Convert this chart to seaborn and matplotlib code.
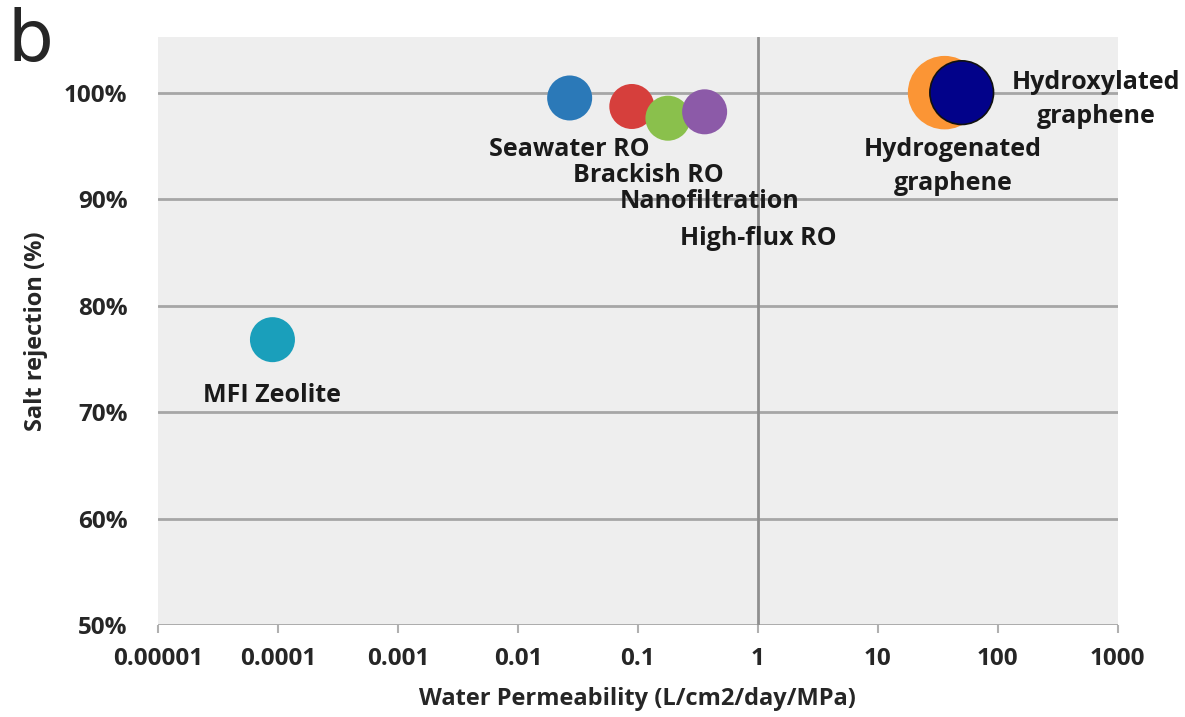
import numpy as np
import pandas as pd
import matplotlib
matplotlib.use("Agg")
import matplotlib.pyplot as plt
import matplotlib.ticker as mticker
import seaborn as sns

materials = ["MFI Zeolite", "Seawater RO", "Brackish RO", "Nanofiltration", "High-flux RO",
             "Hydrogenated graphene", "Hydroxylated graphene"]
permeability = [0.00009, 0.027, 0.089, 0.178, 0.36, 36, 50]
rejection = [0.768, 0.995, 0.987, 0.976, 0.982, 1.0, 1.0]
colors = ["#1a9fbb", "#2b79b8", "#d63f3c", "#8ac04c", "#8c5aa8", "#fb9535", "#02028a"]
marker_size = [1050, 1050, 1050, 1050, 1050, 2800, 2100]
x_ticks = [0.00001, 0.0001, 0.001, 0.01, 0.1, 1, 10, 100, 1000]
x_labels = ["0.00001", "0.0001", "0.001", "0.01", "0.1", "1", "10", "100", "1000"]
y_ticks = [0.5, 0.6, 0.7, 0.8, 0.9, 1.0]

df = pd.DataFrame({"material": materials, "perm": permeability, "rej": rejection, "sz": marker_size})

sns.set_style("white")
plt.rcParams["font.family"] = ["Open Sans", "DejaVu Sans"]

fig = plt.figure(figsize=(11.85, 7.17), dpi=100)
ax = fig.add_axes([0.1333, 0.1283, 0.81, 0.8197])
ax.set_facecolor("#eeeeee")

sns.scatterplot(data=df, x="perm", y="rej", hue="material", palette=colors,
                size="sz", sizes=dict(zip(marker_size, marker_size)),
                edgecolor=["none"] * 6 + ["#111111"], linewidth=1.2,
                legend=False, ax=ax, zorder=3)

ax.set_xscale("log")
ax.set_xlim(0.00001, 1000)
ax.set_ylim(0.5, 1.052)
ax.set_xticks(x_ticks)
ax.set_xticklabels(x_labels)
ax.xaxis.set_minor_locator(mticker.NullLocator())
ax.set_yticks(y_ticks)
ax.yaxis.set_major_formatter(mticker.FuncFormatter(lambda v, p: f"{v*100:.0f}%"))

for y in y_ticks:
    ax.axhline(y, color="#a6a6a6", lw=2, zorder=1)
ax.axvline(1, color="#8f8f8f", lw=2, zorder=1)

for s in ["top", "right", "left", "bottom"]:
    ax.spines[s].set_visible(False)
ax.tick_params(axis="x", bottom=True, length=6, width=1.5, color="#b0b0b0", pad=10, labelsize=17.5)
ax.tick_params(axis="y", length=0, pad=22, labelsize=17.5)
for t in ax.get_xticklabels() + ax.get_yticklabels():
    t.set_fontweight("bold")

ax.set_xlabel("Water Permeability (L/cm2/day/MPa)", fontsize=17, fontweight="bold")
ax.set_ylabel("Salt rejection (%)", fontsize=17, fontweight="bold")
ax.xaxis.set_label_coords(0.5, -0.105)
ax.yaxis.set_label_coords(-0.1146, 0.5)

lab = dict(fontsize=18, fontweight="bold", textcoords="offset points", color="#1a1a1a", zorder=4,
           annotation_clip=False)
ax.annotate("MFI Zeolite", (permeability[0], rejection[0]), xytext=(0, -40), ha="center", va="center", **lab)
ax.annotate("Seawater RO", (permeability[1], rejection[1]), xytext=(0, -37), ha="center", va="center", **lab)
ax.annotate("Brackish RO", (permeability[2], rejection[2]), xytext=(-42, -50), ha="left", va="center", **lab)
ax.annotate("Nanofiltration", (permeability[3], rejection[3]), xytext=(-35, -60), ha="left", va="center", **lab)
ax.annotate("High-flux RO", (permeability[4], rejection[4]), xytext=(-18, -91), ha="left", va="center", **lab)
ax.annotate("Hydrogenated\ngraphene", (permeability[5], rejection[5]), xytext=(6, -53), ha="center",
            va="center", multialignment="center", linespacing=1.5, **lab)
ax.annotate("Hydroxylated\ngraphene", (permeability[6], rejection[6]), xytext=(97, -5), ha="center",
            va="center", multialignment="center", linespacing=1.5, **lab)

fig.text(0.006, 0.99, "b", fontsize=52, va="top", ha="left", family="DejaVu Sans")

fig.savefig("out.png", dpi=100, facecolor="white")
